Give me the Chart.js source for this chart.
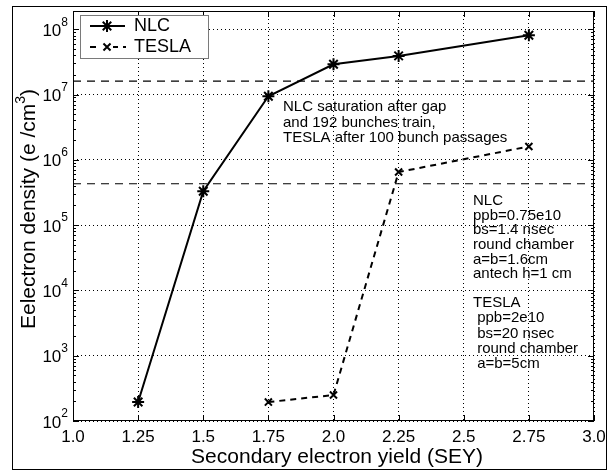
<!DOCTYPE html>
<html>
<head>
<meta charset="utf-8">
<script src="https://cdn.jsdelivr.net/npm/chart.js@4.4.1/dist/chart.umd.min.js"></script>
<style>
  html, body { margin: 0; padding: 0; background: #fff; }
  canvas { display: block; }
</style>
</head>
<body>
<canvas id="sey" width="613" height="470"></canvas>
<script>
// data
const nlcSey = [1.25, 1.5, 1.75, 2.0, 2.25, 2.75];
const nlcDensity = [195, 3.3e5, 9.4e6, 2.9e7, 3.9e7, 8.1e7];
const teslaSey = [1.75, 2.0, 2.25, 2.75];
const teslaDensity = [195, 250, 6.5e5, 1.6e6];
// saturation levels (dashed horizontal lines)
const saturationLevels = [1.6e7, 4.3e5];

const xTickValues = [1.0, 1.25, 1.5, 1.75, 2.0, 2.25, 2.5, 2.75, 3.0];
const xTickLabels = ["1.0", "1.25", "1.5", "1.75", "2.0", "2.25", "2.5", "2.75", "3.0"];
const yTickValues = [1e2, 1e3, 1e4, 1e5, 1e6, 1e7, 1e8];
const yTickExponents = ["2", "3", "4", "5", "6", "7", "8"];

const noteTop = [
  "NLC saturation after gap",
  "and 192 bunches train,",
  "TESLA after 100 bunch passages",
];
const noteNlc = ["NLC", "ppb=0.75e10", "bs=1.4 nsec", "round chamber", "a=b=1.6cm", "antech h=1 cm"];
const noteTesla = ["TESLA", " ppb=2e10", " bs=20 nsec", " round chamber", " a=b=5cm"];

const FONT = '"Liberation Sans", Arial, Helvetica, sans-serif';

const toPoints = (xs, ys) => xs.map((x, i) => ({ x: x, y: ys[i] }));

const satSets = saturationLevels.map((v) => ({
  label: "sat",
  data: [{ x: 1.0, y: v }, { x: 3.0, y: v }],
  borderColor: "#000",
  borderWidth: 1.2,
  borderDash: [8, 6],
  pointRadius: 0,
  fill: false,
}));

// 畫框、刻度、文字、圖例
const decorPlugin = {
  id: "decorPlugin",
  afterDraw: (chart) => {
    const ctx = chart.ctx;
    const { left, right, top, bottom } = chart.chartArea;
    const xs = chart.scales.x;
    const ys = chart.scales.y;
    ctx.save();
    ctx.strokeStyle = "#000";
    ctx.fillStyle = "#000";
    ctx.lineWidth = 1;

    // plot box
    ctx.strokeRect(left + 0.5, top + 0.5, right - left - 1, bottom - top - 1);

    // x ticks, inside top and bottom
    ctx.beginPath();
    xTickValues.forEach((v) => {
      const px = Math.round(xs.getPixelForValue(v)) + 0.5;
      ctx.moveTo(px, bottom); ctx.lineTo(px, bottom - 6);
      ctx.moveTo(px, top); ctx.lineTo(px, top + 6);
    });
    // y ticks, major and minor
    for (let e = 2; e <= 8; e++) {
      for (let m = 1; m <= 9; m++) {
        const v = m * Math.pow(10, e);
        if (v > ys.max) break;
        const py = Math.round(ys.getPixelForValue(v)) + 0.5;
        const len = m === 1 ? 6 : 3;
        ctx.moveTo(left, py); ctx.lineTo(left + len, py);
        ctx.moveTo(right, py); ctx.lineTo(right - len, py);
      }
    }
    ctx.stroke();

    // y tick labels with superscript
    ctx.textBaseline = "middle";
    yTickValues.forEach((v, i) => {
      const py = ys.getPixelForValue(v);
      ctx.font = "12px " + FONT;
      const wSup = ctx.measureText(yTickExponents[i]).width;
      ctx.textAlign = "left";
      ctx.fillText(yTickExponents[i], left - 5 - wSup, py - 7);
      ctx.font = "17px " + FONT;
      ctx.textAlign = "right";
      ctx.fillText("10", left - 5 - wSup, py + 2);
    });

    // x title
    ctx.font = "21px " + FONT;
    ctx.textAlign = "center";
    ctx.fillText("Secondary electron yield (SEY)", 337, 457);

    // y title, rotated, with superscript 3
    ctx.save();
    ctx.translate(29, 209);
    ctx.rotate(-Math.PI / 2);
    const partA = "Eelectron density (e /cm";
    ctx.font = "21px " + FONT;
    const wA = ctx.measureText(partA).width;
    const wC = ctx.measureText(")").width;
    ctx.font = "14px " + FONT;
    const wB = ctx.measureText("3").width;
    let x0 = -(wA + wB + wC) / 2;
    ctx.textAlign = "left";
    ctx.font = "21px " + FONT;
    ctx.fillText(partA, x0, 0);
    ctx.font = "14px " + FONT;
    ctx.fillText("3", x0 + wA, -8);
    ctx.font = "21px " + FONT;
    ctx.fillText(")", x0 + wA + wB, 0);
    ctx.restore();

    // annotations
    ctx.font = "15px " + FONT;
    ctx.textAlign = "left";
    noteTop.forEach((t, i) => ctx.fillText(t, 283, 107 + i * 15.5));
    noteNlc.forEach((t, i) => ctx.fillText(t, 473, 201 + i * 14.6));
    noteTesla.forEach((t, i) => ctx.fillText(t, 473, 303 + i * 15.2));

    // legend
    ctx.fillStyle = "#fff";
    ctx.fillRect(80, 15, 128, 43);
    ctx.strokeStyle = "#7a7a7a";
    ctx.strokeRect(80.5, 15.5, 128, 43);
    ctx.strokeStyle = "#000";
    ctx.lineWidth = 2;
    ctx.beginPath();
    ctx.moveTo(90, 26); ctx.lineTo(125, 26);
    ctx.stroke();
    ctx.setLineDash([6, 5]);
    ctx.beginPath();
    ctx.moveTo(90, 47); ctx.lineTo(126, 47);
    ctx.stroke();
    ctx.setLineDash([]);
    ctx.fillStyle = "#fff";
    ctx.fillRect(101, 41, 12, 12);
    Chart.helpers.drawPoint(ctx, { pointStyle: "star", radius: 6, borderWidth: 2 }, 107, 26);
    Chart.helpers.drawPoint(ctx, { pointStyle: "crossRot", radius: 5, borderWidth: 2 }, 107, 47);
    ctx.fillStyle = "#000";
    ctx.font = "18px " + FONT;
    ctx.textAlign = "left";
    ctx.fillText("NLC", 134, 26);
    ctx.fillText("TESLA", 134, 47);

    // outer frame
    ctx.lineWidth = 1;
    ctx.strokeStyle = "#000";
    ctx.strokeRect(12.5, 6.5, 594, 463);
    ctx.restore();
  },
};

new Chart(document.getElementById("sey"), {
  type: "line",
  data: {
    datasets: [
      {
        label: "NLC",
        data: toPoints(nlcSey, nlcDensity),
        borderColor: "#000",
        backgroundColor: "#000",
        borderWidth: 2,
        pointStyle: "star",
        pointRadius: 6,
        pointBorderWidth: 2,
        tension: 0,
        fill: false,
      },
      {
        label: "TESLA",
        data: toPoints(teslaSey, teslaDensity),
        borderColor: "#000",
        backgroundColor: "#000",
        borderWidth: 2,
        borderDash: [6, 5],
        pointStyle: "crossRot",
        pointRadius: 5,
        pointBorderWidth: 2,
        tension: 0,
        fill: false,
      },
      ...satSets,
    ],
  },
  options: {
    responsive: false,
    animation: false,
    devicePixelRatio: 1,
    layout: { padding: { left: 0, right: 19, top: 11, bottom: 0 } },
    plugins: {
      legend: { display: false },
      tooltip: { enabled: false },
    },
    scales: {
      x: {
        type: "linear",
        min: 1.0,
        max: 3.0,
        afterBuildTicks: (scale) => {
          scale.ticks = xTickValues.map((v) => ({ value: v }));
        },
        afterFit: (scale) => { scale.height = 49; },
        ticks: {
          color: "#000",
          font: { family: FONT, size: 17 },
          padding: 6,
          maxRotation: 0,
          autoSkip: false,
          callback: (value, index) => xTickLabels[index],
        },
        grid: { color: "#000", lineWidth: 1, drawTicks: false },
        border: { display: false, dash: [1, 3] },
      },
      y: {
        type: "logarithmic",
        min: 100,
        max: 1.9e8,
        afterBuildTicks: (scale) => {
          scale.ticks = yTickValues.map((v) => ({ value: v }));
        },
        afterFit: (scale) => { scale.width = 73; },
        ticks: { display: false },
        grid: { color: "#000", lineWidth: 1, drawTicks: false },
        border: { display: false, dash: [1, 3] },
      },
    },
  },
  plugins: [decorPlugin],
});
</script>
</body>
</html>
